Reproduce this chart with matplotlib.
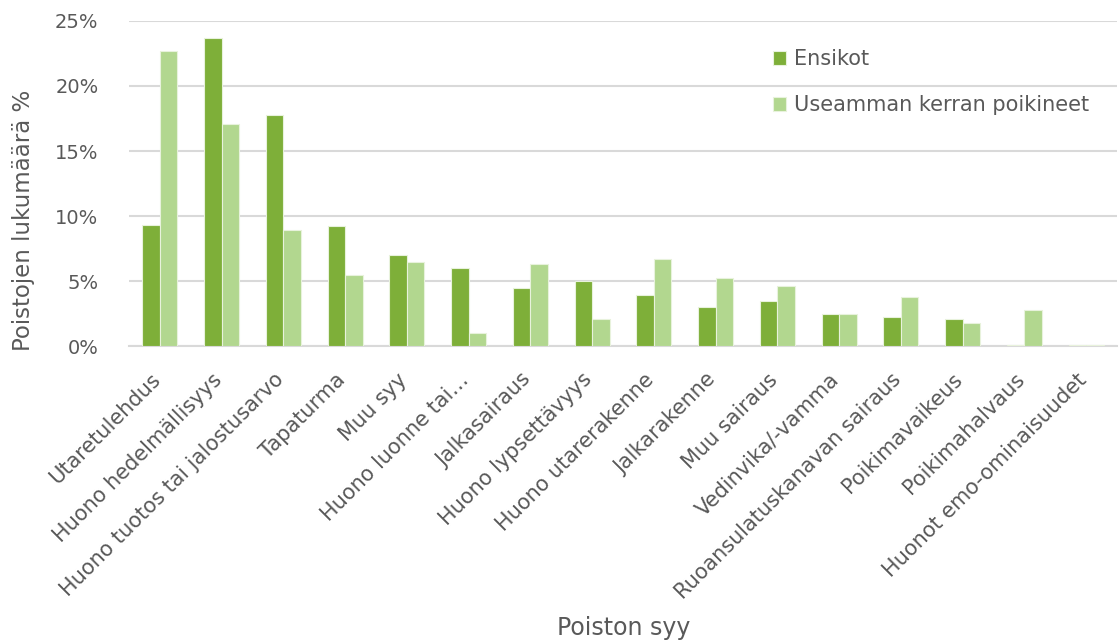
import matplotlib.pyplot as plt
import numpy as np
from matplotlib.ticker import FuncFormatter
from matplotlib.transforms import ScaledTranslation

# Poiston syyt ja osuudet (%)
syyt = [
    'Utaretulehdus', 'Huono hedelmällisyys', 'Huono tuotos tai jalostusarvo',
    'Tapaturma', 'Muu syy', 'Huono luonne tai…', 'Jalkasairaus',
    'Huono lypsettävyys', 'Huono utarerakenne', 'Jalkarakenne',
    'Muu sairaus', 'Vedinvika/-vamma', 'Ruoansulatuskanavan sairaus',
    'Poikimavaikeus', 'Poikimahalvaus', 'Huonot emo-ominaisuudet',
]
ensikot = [9.3, 23.7, 17.8, 9.2, 7.0, 6.0, 4.5, 5.0, 3.9, 3.0, 3.5, 2.5, 2.2, 2.1, 0.1, 0.1]
useamman = [22.7, 17.1, 8.9, 5.5, 6.5, 1.0, 6.3, 2.1, 6.7, 5.2, 4.6, 2.5, 3.8, 1.8, 2.8, 0.1]
y_ticks = [0, 5, 10, 15, 20, 25]

tumma = '#7EAF39'
vaalea = '#B2D78F'
teksti = '#595959'
ruudukko = '#D9D9D9'

plt.rcParams['font.family'] = ['DejaVu Sans']

fig = plt.figure(figsize=(11.19, 6.44), dpi=100)
ax = fig.add_axes([0.1153, 0.4627, 0.8829, 0.5047])

x = np.arange(len(syyt))
w = 0.283
ax.bar(x - w / 2, ensikot, w, color=tumma, edgecolor='#E8F2DC', linewidth=0.8,
       label='Ensikot', zorder=3)
ax.bar(x + w / 2, useamman, w, color=vaalea, edgecolor='#E8F2DC', linewidth=0.8,
       label='Useamman kerran poikineet', zorder=3)

ax.set_xlim(-0.5, len(syyt) - 0.5)
ax.set_ylim(0, 25)
ax.set_yticks(y_ticks)
ax.yaxis.set_major_formatter(FuncFormatter(lambda v, p: f'{v:.0f}%'))
ax.grid(axis='y', color=ruudukko, linewidth=1.5, zorder=0)
for s in ['top', 'right', 'left']:
    ax.spines[s].set_visible(False)
ax.spines['bottom'].set_color(ruudukko)
ax.spines['bottom'].set_linewidth(1.5)
ax.tick_params(axis='both', length=0, labelcolor=teksti)
ax.tick_params(axis='y', pad=22, labelsize=14)
ax.tick_params(axis='x', pad=22, labelsize=15)

# kallistetut luokkanimet, loppupää tikin kohdalle
ax.set_xticks(x)
ax.set_xticklabels(syyt, rotation=45, ha='right', va='center', rotation_mode='anchor')
siirto = ScaledTranslation(-0.03, 0, fig.dpi_scale_trans)
for lbl in ax.get_xticklabels():
    lbl.set_transform(lbl.get_transform() + siirto)

fig.text(0.557, 0.025, 'Poiston syy', fontsize=17, color=teksti, ha='center', va='center')
fig.text(0.021, 0.658, 'Poistojen lukumäärä %', fontsize=16.5, color=teksti,
         rotation=90, ha='center', va='center')

leg = ax.legend(loc='upper left', bbox_to_anchor=(0.683, 0.937),
                bbox_transform=fig.transFigure, frameon=False, fontsize=15,
                handlelength=0.65, handleheight=0.65, handletextpad=0.4,
                labelspacing=1.25, borderaxespad=0)
for t in leg.get_texts():
    t.set_color(teksti)

fig.savefig('out.png', dpi=100, facecolor='white')
